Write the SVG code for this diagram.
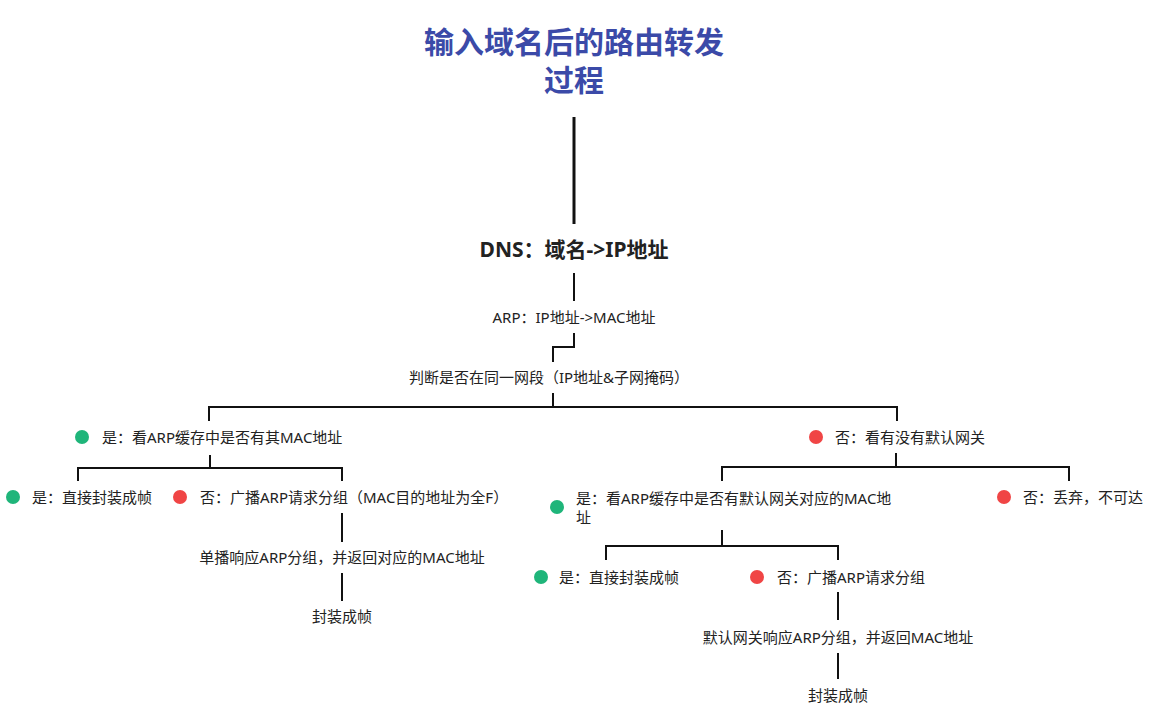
<svg xmlns="http://www.w3.org/2000/svg" width="1166" height="707" viewBox="0 0 1166 707">
<style>
text{font-family:"Noto Sans","Noto Sans CJK SC",sans-serif;fill:#222;}
.t{font-size:15px;}
.title{font-size:30px;font-weight:bold;fill:#3b4aa8;}
.dns{font-size:21px;font-weight:bold;}
.c{text-anchor:middle;}
.ln{fill:none;stroke:#111;stroke-width:2;}
.g{fill:#1fb57a;}
.r{fill:#f04545;}
</style>
<rect width="1166" height="707" fill="#fff"/>
<g id="connectors">
<path class="ln" style="stroke-width:3" d="M574 117V224"/>
<path class="ln" d="M574 273V301"/>
<path class="ln" d="M574 333V347H553V362"/>
<path class="ln" d="M553 393V407"/>
<path class="ln" d="M209 421V407H897V421"/>
<path class="ln" d="M210 455V468"/>
<path class="ln" d="M78 481V468H342V481"/>
<path class="ln" d="M342 513V542"/>
<path class="ln" d="M342 573V601"/>
<path class="ln" d="M896 453V467"/>
<path class="ln" d="M722 481V467H1069V481"/>
<path class="ln" d="M722 530V546"/>
<path class="ln" d="M606 560V546H838V560"/>
<path class="ln" d="M838 592V620"/>
<path class="ln" d="M838 653V679"/>
</g>
<g id="title">
<text class="title c" x="574" y="53">输入域名后的路由转发</text>
<text class="title c" x="574" y="91">过程</text>
</g>
<g id="dns"><text class="dns c" x="574" y="256.5">DNS：域名-&gt;IP地址</text></g>
<g id="arp"><text class="t c" x="574" y="323">ARP：IP地址-&gt;MAC地址</text></g>
<g id="judge"><text class="t c" x="549" y="383">判断是否在同一网段（IP地址&amp;子网掩码）</text></g>
<g id="yes1"><circle class="g" cx="82" cy="437" r="7"/><text class="t" x="102" y="442.5">是：看ARP缓存中是否有其MAC地址</text></g>
<g id="yes1-yes"><circle class="g" cx="13" cy="497" r="7"/><text class="t" x="32" y="502.5">是：直接封装成帧</text></g>
<g id="yes1-no"><circle class="r" cx="180" cy="497" r="7"/><text class="t" x="200" y="502.5">否：广播ARP请求分组（MAC目的地址为全F）</text></g>
<g id="unicast"><text class="t c" x="342" y="562.5">单播响应ARP分组，并返回对应的MAC地址</text></g>
<g id="frame1"><text class="t c" x="342" y="622">封装成帧</text></g>
<g id="no1"><circle class="r" cx="816" cy="437" r="7"/><text class="t" x="835" y="442.5">否：看有没有默认网关</text></g>
<g id="no1-yes"><circle class="g" cx="557" cy="507" r="7"/><text class="t" x="576" y="503.5">是：看ARP缓存中是否有默认网关对应的MAC地</text><text class="t" x="576" y="522.5">址</text></g>
<g id="no1-no"><circle class="r" cx="1004" cy="497" r="7"/><text class="t" x="1023" y="502.5">否：丢弃，不可达</text></g>
<g id="gw-yes"><circle class="g" cx="541" cy="577" r="7"/><text class="t" x="559" y="582.5">是：直接封装成帧</text></g>
<g id="gw-no"><circle class="r" cx="757" cy="577" r="7"/><text class="t" x="777" y="582.5">否：广播ARP请求分组</text></g>
<g id="gw-reply"><text class="t c" x="838" y="642.5">默认网关响应ARP分组，并返回MAC地址</text></g>
<g id="frame2"><text class="t c" x="838" y="700.5">封装成帧</text></g>
</svg>
